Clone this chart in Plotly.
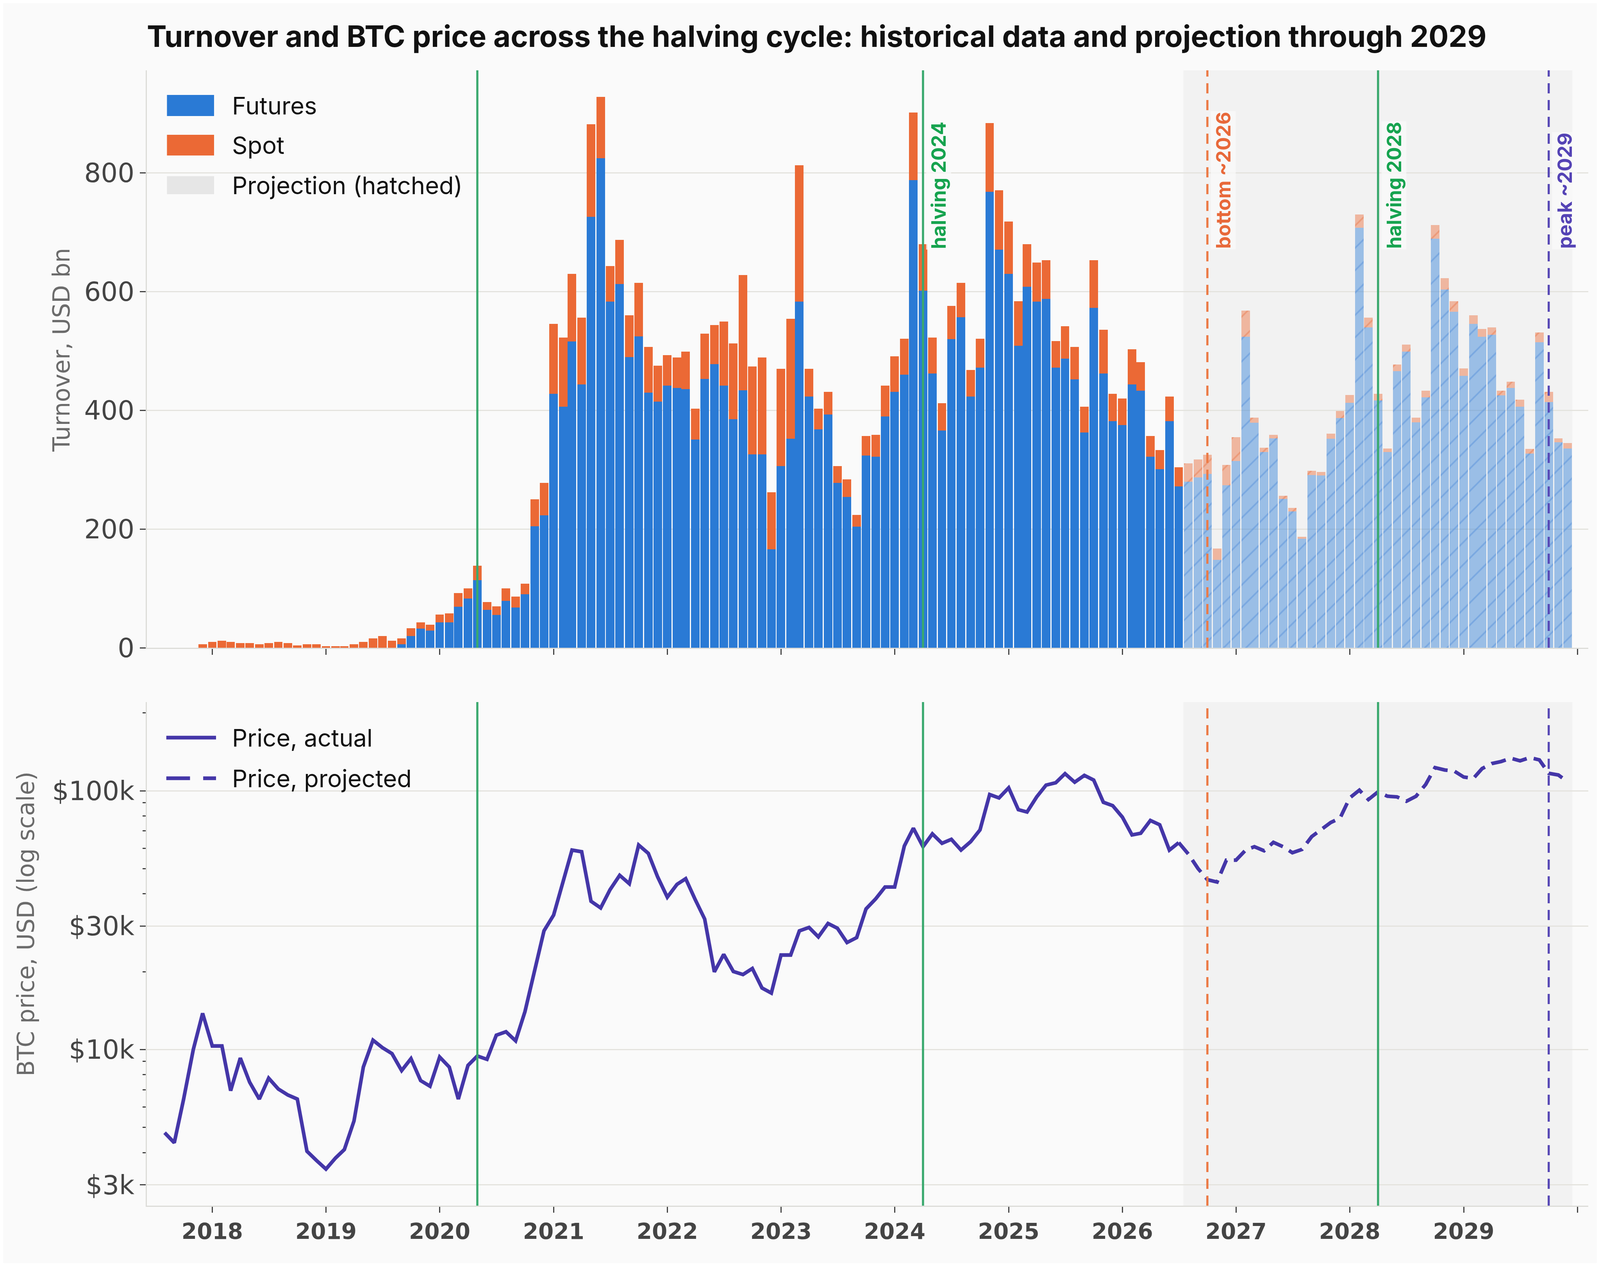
import pandas as pd
import plotly.graph_objects as go

W, H = 4863, 3243
# the page is photographed in a window about 4104 css px wide and 3243 tall, so the
# reference layout is squeezed horizontally by KX; vertical positions keep their pixels
KX, KY = 0.843, 1.0

# turnover, USD bn per month, Dec 2017 .. Jul 2026 (actual)
futures_actual = [0,
    0, 0, 0, 0, 0, 0, 0, 0, 0, 0, 0, 0,
    0, 0, 0, 0, 0, 0, 0, 0, 6, 20, 32, 29,
    43, 43, 69, 83, 114, 64, 55, 79, 68, 90, 205, 223,
    428, 406, 516, 444, 726, 825, 583, 613, 490, 525, 430, 415,
    442, 438, 436, 351, 453, 478, 442, 385, 434, 326, 326, 166,
    306, 352, 583, 423, 368, 393, 278, 254, 204, 324, 322, 390,
    431, 460, 788, 602, 462, 366, 520, 557, 423, 472, 768, 671,
    630, 509, 608, 583, 588, 472, 487, 452, 363, 573, 462, 382,
    375, 444, 433, 322, 301, 382, 272]
spot_actual = [6,
    10, 12, 10, 8, 8, 6, 8, 10, 8, 4, 6, 6,
    2.5, 2.5, 2.5, 6, 10, 16, 20, 12, 10, 13, 11, 10,
    13, 15, 23, 17, 24, 13, 15, 21, 18, 18, 45, 55,
    118, 117, 114, 112, 156, 103, 60, 74, 70, 90, 77, 60,
    51, 51, 63, 52, 76, 66, 108, 128, 194, 148, 163, 96,
    164, 202, 230, 47, 35, 38, 28, 30, 20, 33, 37, 52,
    60, 61, 114, 78, 61, 46, 56, 58, 45, 49, 116, 100,
    88, 75, 72, 66, 65, 45, 55, 55, 43, 80, 74, 46,
    45, 59, 48, 35, 32, 41, 32]

# turnover projection, Aug 2026 .. Dec 2029
futures_proj = [280, 287, 293, 148, 274,
    315, 524, 379, 330, 353, 251, 230, 184, 291, 290, 352, 387,
    413, 708, 540, 417, 330, 466, 499, 380, 422, 689, 604, 566,
    458, 546, 524, 527, 425, 438, 406, 327, 515, 414, 346, 336]
spot_proj = [31, 30, 32, 19, 34,
    40, 44, 9, 7, 6, 5, 6, 3, 7, 6, 9, 12,
    13, 22, 16, 11, 6, 11, 12, 8, 11, 23, 19, 18,
    13, 14, 13, 13, 8, 10, 12, 8, 16, 17, 7, 9]

# BTC monthly price, USD, Aug 2017 .. Jul 2026
price_actual = [4775, 4365, 6440, 10000, 13810,
    10330, 10330, 6940, 9280, 7480, 6440, 7755, 7045, 6675, 6440, 4050, 3735,
    3455, 3815, 4110, 5300, 8560, 10880, 10180, 9650, 8300, 9230, 7590, 7220,
    9360, 8560, 6440, 8690, 9450, 9170, 11370, 11720, 10810, 14030, 20090, 28770,
    33120, 45090, 59030, 58160, 37450, 35270, 41470, 47170, 43760, 61750, 57320, 46480,
    38820, 43500, 45770, 37900, 31960, 19970, 23330, 20040, 19500, 20580, 17300, 16540,
    23200, 23200, 28770, 29650, 27270, 30730, 29460, 25920, 27100, 34960, 38240, 42480,
    42480, 61200, 71730, 60830, 68170, 62700, 64950, 59030, 63620, 70670, 96770, 93900,
    102730, 84580, 82830, 94750, 105220, 107450, 116500, 107970, 114750, 110050, 90330, 87660,
    79170, 67550, 68570, 76840, 73920, 59030, 63070]
# projected price, Jul 2026 .. Dec 2029
price_proj = [63070, 56960, 50080, 45360, 44420, 53980,
    53980, 59030, 60830, 58680, 63240, 60830, 57650, 59400, 66550, 71090, 75460, 78460,
    93910, 100600, 92520, 99110, 95320, 94750, 91130, 95320, 105850, 122950, 120390, 119310,
    113050, 111700, 121860, 127450, 129770, 133720, 130560, 134400, 131700, 116860, 115100, 108420]

months_bar_actual = pd.date_range("2017-12-01", "2026-07-01", freq="MS")
months_bar_proj = pd.date_range("2026-08-01", "2029-12-01", freq="MS")
months_price_actual = pd.date_range("2017-08-01", "2026-07-01", freq="MS")
months_price_proj = pd.date_range("2026-07-01", "2029-12-01", freq="MS")

events = [("2020-05-01", None, "green"), ("2024-04-01", "halving 2024", "green"),
          ("2026-10-01", "bottom ~2026", "orange"), ("2028-04-01", "halving 2028", "green"),
          ("2029-10-01", "peak ~2029", "purple")]
proj_start, proj_end = "2026-07-16", "2029-12-16"

BLUE, ORANGE, PURPLE = "#2A7AD5", "#EB6935", "#4436A8"
LINE_COL = {"green": "#3AA96E", "orange": "#EC7A45", "purple": "#5849B6"}
TEXT_COL = {"green": "#16A34F", "orange": "#E8693A", "purple": "#5443B5"}
INTER, DEJAVU = "Inter", "DejaVu Sans"
BAR_W = 27.4 * 86400000

# plot area in reference pixels
L, R, T, B = 446, 4823, 180, 3086
PW, PH = R - L, B - T
TOP_DOMAIN = [(B - 1658) / PH, 1]
BOT_DOMAIN = [0, (B - 1797) / PH]


def k(v):
    return v * KX


def dash(a, b, scale=KX):
    return f"{a * scale:.1f}px,{b * scale:.1f}px"


def px(x):
    return (x - L) / PW


def py(y):
    return (B - y) / PH


fig = go.Figure()
fig.add_bar(x=months_bar_actual, y=futures_actual, width=BAR_W, marker=dict(color=BLUE, line_width=0),
            name="Futures", showlegend=False)
fig.add_bar(x=months_bar_actual, y=spot_actual, width=BAR_W, marker=dict(color=ORANGE, line_width=0),
            name="Spot", showlegend=False)
fig.add_bar(x=months_bar_proj, y=futures_proj, width=BAR_W, showlegend=False, name="Futures, projected",
            marker=dict(color="rgba(42,122,213,0.44)", line_width=0,
                        pattern=dict(shape="/", fillmode="overlay", fgcolor="#5B93DC", size=k(48), solidity=0.1)))
fig.add_bar(x=months_bar_proj, y=spot_proj, width=BAR_W, showlegend=False, name="Spot, projected",
            marker=dict(color="rgba(235,105,53,0.44)", line_width=0,
                        pattern=dict(shape="/", fillmode="overlay", fgcolor="#EC8055", size=k(48), solidity=0.1)))

fig.add_scatter(x=months_price_actual, y=price_actual, mode="lines", xaxis="x2", yaxis="y2",
                line=dict(color=PURPLE, width=k(11)), name="Price, actual", showlegend=False)
fig.add_scatter(x=months_price_proj, y=price_proj, mode="lines", xaxis="x2", yaxis="y2",
                line=dict(color=PURPLE, width=k(11), dash=dash(45, 22)), name="Price, projected",
                showlegend=False)

shapes = []
annotations = []
for xr, yr in (("x", "y domain"), ("x2", "y2 domain")):
    shapes.append(dict(type="rect", xref=xr, yref=yr, x0=proj_start, x1=proj_end, y0=0, y1=1,
                       fillcolor="#F2F2F2", line_width=0, layer="below"))
    for date, label, kind in events:
        style = "solid" if kind == "green" else dash(26, 17, KY)
        shapes.append(dict(type="line", xref=xr, yref=yr, x0=date, x1=date, y0=0, y1=1,
                           line=dict(color=LINE_COL[kind], width=k(6.5), dash=style)))

for date, label, kind in events:
    if label:
        annotations.append(dict(x=date, y=(1658 - 639) / (1658 - 180), xref="x", yref="y domain",
                                text=label, textangle=-90, showarrow=False, xanchor="center",
                                yanchor="bottom", xshift=k(48), bgcolor="rgba(250,250,250,0.75)",
                                font=dict(family=INTER, size=k(60), color=TEXT_COL[kind], weight="bold")))

# y-axis titles, placed where the reference has them
for text, x_ref, y_ref in (("Turnover, USD bn", 186, 896), ("BTC price, USD (log scale)", 78, 2365)):
    annotations.append(dict(x=px(x_ref), y=py(y_ref), xref="paper", yref="paper", text=text,
                            textangle=-90, showarrow=False, xanchor="center", yanchor="middle",
                            font=dict(family=DEJAVU, size=k(71), color="#6B6B6B")))

# legend of the turnover panel
for (y0, y1), col, label, yc in (((243, 297), BLUE, "Futures", 270),
                                 ((345, 398), ORANGE, "Spot", 371),
                                 ((451, 497), "#E6E6E6", "Projection (hatched)", 474)):
    shapes.append(dict(type="rect", xref="paper", yref="paper", x0=px(507), x1=px(650),
                       y0=py(y1), y1=py(y0), fillcolor=col, line_width=0))
    annotations.append(dict(x=px(702), y=py(yc), xref="paper", yref="paper", text=label,
                            showarrow=False, xanchor="left", yanchor="middle",
                            font=dict(family=INTER, size=k(73), color="#111111")))

# legend of the price panel
for style, label, yc in (("solid", "Price, actual", 1888), (dash(72, 40), "Price, projected", 1992)):
    shapes.append(dict(type="line", xref="paper", yref="paper", x0=px(505), x1=px(656),
                       y0=py(yc), y1=py(yc), line=dict(color=PURPLE, width=k(11), dash=style)))
    annotations.append(dict(x=px(702), y=py(yc), xref="paper", yref="paper", text=label,
                            showarrow=False, xanchor="left", yanchor="middle",
                            font=dict(family=INTER, size=k(73), color="#111111")))

axis_common = dict(showline=True, linecolor="#DCDCD8", linewidth=k(4), ticks="outside",
                   tickwidth=k(4), tickcolor="#444444", zeroline=False)
xrange = ["2017-06-05", "2030-02-05"]
tick_font = dict(family=DEJAVU, size=k(80), color="#444444")
fig_w, fig_h = W * KX - 16, H * KY - 18

fig.update_layout(
    width=fig_w, height=fig_h,
    margin=dict(l=L * KX - 8, r=(W - R) * KX - 8, t=T * KY - 8, b=fig_h - (B * KY - 8),
                autoexpand=False),
    paper_bgcolor="#FAFAFA", plot_bgcolor="#FAFAFA",
    barmode="stack",
    shapes=shapes, annotations=annotations,
    title=dict(text="<b>Turnover and BTC price across the halving cycle: historical data and projection through 2029</b>",
               x=0, xref="paper", xanchor="left", y=1 - (93 * KY - 8) / fig_h, yanchor="middle",
               font=dict(family=INTER, size=k(90), color="#111111")),
    xaxis=dict(type="date", range=xrange, anchor="y", showgrid=False, showticklabels=False,
               dtick="M12", tick0="2018-01-01", ticklen=15 * KY, **axis_common),
    xaxis2=dict(type="date", range=xrange, anchor="y2", matches="x", showgrid=False,
                dtick="M12", tick0="2018-01-01", tickformat="%Y", ticklen=15 * KY,
                tickfont=dict(family=DEJAVU, size=k(67), color="#444444", weight="bold"), **axis_common),
    yaxis=dict(domain=TOP_DOMAIN, range=[0, 973], anchor="x", tickvals=[0, 200, 400, 600, 800],
               showgrid=True, gridcolor="#E4E3DE", gridwidth=k(3), tickfont=tick_font,
               ticklen=k(18), **axis_common),
    yaxis2=dict(domain=BOT_DOMAIN, type="log", range=[3.397, 5.343], anchor="x2",
                tickvals=[3000, 10000, 30000, 100000], ticktext=["$3k", "$10k", "$30k", "$100k"],
                showgrid=True, gridcolor="#E4E3DE", gridwidth=k(3), tickfont=tick_font, ticklen=k(18),
                minor=dict(ticks="outside", ticklen=k(9), tickwidth=k(3), tickcolor="#444444", showgrid=False,
                           tickvals=[4000, 5000, 6000, 7000, 8000, 9000, 20000, 40000, 50000,
                                     60000, 70000, 80000, 90000, 200000]),
                **axis_common),
)

fig.write_html("out.html")
